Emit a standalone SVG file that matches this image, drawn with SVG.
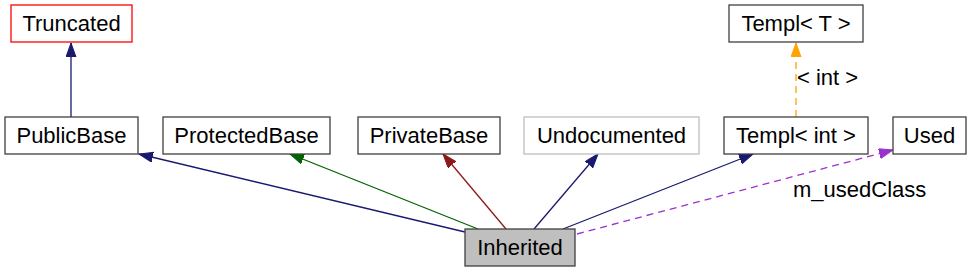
<svg xmlns="http://www.w3.org/2000/svg" width="971" height="272" viewBox="0 0 971 272">
<style>
text{font-family:"Liberation Sans",Arial,sans-serif;font-size:22px;fill:#000}
.n{text-anchor:middle}
.box{fill:#fff;stroke:#404040;stroke-width:1.3}
.e{fill:none;stroke-width:1.3}
.blue{stroke:#191970}
.green{stroke:#006400}
.red{stroke:#8b1a1a}
.purple{stroke:#9a32cd;stroke-dasharray:7,5}
.orange{stroke:#ffa500;stroke-dasharray:7,5}
</style>
<defs>
<marker id="aBlue" markerUnits="userSpaceOnUse" markerWidth="16" markerHeight="12" refX="14" refY="5" orient="auto"><path d="M0,0 L14,5 L0,10 Z" fill="#191970" stroke="#191970"/></marker>
<marker id="aGreen" markerUnits="userSpaceOnUse" markerWidth="16" markerHeight="12" refX="14" refY="5" orient="auto"><path d="M0,0 L14,5 L0,10 Z" fill="#006400" stroke="#006400"/></marker>
<marker id="aRed" markerUnits="userSpaceOnUse" markerWidth="16" markerHeight="12" refX="14" refY="5" orient="auto"><path d="M0,0 L14,5 L0,10 Z" fill="#8b1a1a" stroke="#8b1a1a"/></marker>
<marker id="aPurple" markerUnits="userSpaceOnUse" markerWidth="16" markerHeight="12" refX="14" refY="5" orient="auto"><path d="M0,0 L14,5 L0,10 Z" fill="#9a32cd" stroke="#9a32cd"/></marker>
<marker id="aOrange" markerUnits="userSpaceOnUse" markerWidth="16" markerHeight="12" refX="14" refY="5" orient="auto"><path d="M0,0 L14,5 L0,10 Z" fill="#ffa500" stroke="#ffa500"/></marker>
</defs>
<g id="edges">
<path class="e blue" d="M71,117 L71,43" marker-end="url(#aBlue)"/>
<path class="e blue" d="M465,232 L139,154" marker-end="url(#aBlue)"/>
<path class="e green" d="M478,229 L290,154" marker-end="url(#aGreen)"/>
<path class="e red" d="M506,229 L443,154" marker-end="url(#aRed)"/>
<path class="e blue" d="M534,229 L598,154" marker-end="url(#aBlue)"/>
<path class="e blue" d="M563,229 L753,154" marker-end="url(#aBlue)"/>
<path class="e purple" d="M577,234 L893,150" marker-end="url(#aPurple)"/>
<text x="793" y="197">m_usedClass</text>
<path class="e orange" d="M796,117 L796,43" marker-end="url(#aOrange)"/>
<text x="797" y="85">&lt; int &gt;</text>
</g>
<g id="Truncated"><rect class="box" x="11" y="5" width="121" height="37" style="stroke:#ff0000"/><text class="n" x="71.5" y="30.5">Truncated</text></g>
<g id="PublicBase"><rect class="box" x="5" y="117" width="133" height="37"/><text class="n" x="71.5" y="142.5">PublicBase</text></g>
<g id="ProtectedBase"><rect class="box" x="163" y="117" width="167" height="37"/><text class="n" x="246.5" y="142.5">ProtectedBase</text></g>
<g id="PrivateBase"><rect class="box" x="358" y="117" width="142" height="37"/><text class="n" x="429" y="142.5">PrivateBase</text></g>
<g id="Undocumented"><rect class="box" x="524" y="117" width="175" height="37" style="stroke:#bfbfbf"/><text class="n" x="611.5" y="142.5">Undocumented</text></g>
<g id="TemplT"><rect class="box" x="729" y="5" width="134" height="37"/><text class="n" x="796" y="30.5">Templ&lt; T &gt;</text></g>
<g id="TemplInt"><rect class="box" x="724" y="117" width="144" height="37"/><text class="n" x="796" y="142.5">Templ&lt; int &gt;</text></g>
<g id="Used"><rect class="box" x="893" y="117" width="73" height="37"/><text class="n" x="929.5" y="142.5">Used</text></g>
<g id="Inherited"><rect class="box" x="465" y="229" width="110" height="37" style="fill:#bfbfbf"/><text class="n" x="520" y="254.5">Inherited</text></g>
</svg>
